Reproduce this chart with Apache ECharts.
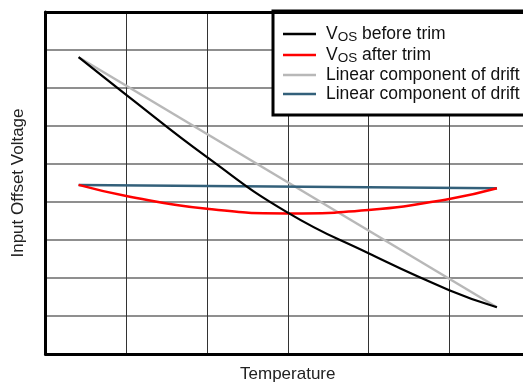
<!DOCTYPE html>
<html>
<head>
<meta charset="utf-8">
<script src="https://cdn.jsdelivr.net/npm/echarts@6/dist/echarts.min.js"></script>
<style>html,body{margin:0;padding:0;background:#fff;}#c{width:523px;height:382px;}</style>
</head>
<body>
<div id="c"></div>
<script>
// Temperature positions (arbitrary units, grid spans 0..6)
const tempX = [0.41, 1, 2, 3, 4, 5, 5.59];
const vosBefore = [7.81, 6.82, 5.18, 3.72, 2.65, 1.68, 1.23];
const vosAfter = [4.45, 4.16, 3.82, 3.70, 3.79, 4.08, 4.36];
const linX = [0.41, 5.59];
const linearBefore = [7.81, 1.23];
const linearAfter = [4.45, 4.36];
const seriesNames = ['VOS before trim', 'VOS after trim', 'Linear component of drift (before)', 'Linear component of drift (after)'];
const legendRich = ['{n|V}{s|OS}{n| before trim}', '{n|V}{s|OS}{n| after trim}', '{n|Linear component of drift}', '{n|Linear component of drift}'];
const seriesColors = ['#000000', '#ff0000', '#b8b8b8', '#33607a'];
const xTitle = 'Temperature';
const yTitle = 'Input Offset Voltage';

const pairs = (xs, ys) => xs.map((x, i) => [x, ys[i]]);
const FONT = 'Liberation Sans, Arial, sans-serif';

const chart = echarts.init(document.getElementById('c'), null, {renderer: 'canvas'});
chart.setOption({
  animation: false,
  backgroundColor: '#fff',
  grid: {left: 45.5, top: 12, width: 484.5, height: 342, show: false, containLabel: false, outerBoundsMode: 'none'},
  xAxis: [{
    type: 'value', min: 0, max: 6, interval: 1,
    name: xTitle, nameLocation: 'middle', nameGap: 12,
    nameTextStyle: {fontFamily: FONT, fontSize: 17, color: '#222'},
    axisLabel: {show: false}, axisTick: {show: false},
    axisLine: {show: true, lineStyle: {color: '#000', width: 3}},
    splitLine: {show: true, lineStyle: {color: '#333', width: 1}}
  }, {
    type: 'value', min: 0, max: 6, interval: 1, position: 'top',
    axisLabel: {show: false}, axisTick: {show: false}, splitLine: {show: false},
    axisLine: {show: true, lineStyle: {color: '#000', width: 3}}, z: 5
  }],
  yAxis: {
    type: 'value', min: 0, max: 9, interval: 1,
    name: yTitle, nameLocation: 'middle', nameGap: 19,
    nameTextStyle: {fontFamily: FONT, fontSize: 17, color: '#222'},
    axisLabel: {show: false}, axisTick: {show: false},
    axisLine: {show: true, lineStyle: {color: '#000', width: 3}},
    splitLine: {show: true, lineStyle: {color: '#6a6a6a', width: 1.5}}
  },
  legend: {
    orient: 'vertical', left: 273, top: 11,
    padding: [13, 12, 12, 10],
    itemWidth: 33, itemHeight: 2.5, itemGap: 1,
    icon: 'rect',
    backgroundColor: '#fff', borderColor: '#000', borderWidth: 3,
    data: seriesNames,
    formatter: (name) => legendRich[seriesNames.indexOf(name)],
    textStyle: {
      fontFamily: FONT, fontSize: 17.5, color: '#111', padding: [0, 0, 0, 5],
      rich: {
        n: {fontFamily: FONT, fontSize: 17.5, color: '#111', lineHeight: 20},
        s: {fontFamily: FONT, fontSize: 13.5, color: '#111', lineHeight: 20, verticalAlign: 'bottom', padding: [6, 0, 0, 0]}
      }
    }
  },
  series: [
    {name: seriesNames[2], type: 'line', data: pairs(linX, linearBefore), symbol: 'none', lineStyle: {color: seriesColors[2], width: 2.5}, itemStyle: {color: seriesColors[2]}, z: 2},
    {name: seriesNames[3], type: 'line', data: pairs(linX, linearAfter), symbol: 'none', lineStyle: {color: seriesColors[3], width: 2.5}, itemStyle: {color: seriesColors[3]}, z: 3},
    {name: seriesNames[1], type: 'line', data: pairs(tempX, vosAfter), smooth: true, symbol: 'none', lineStyle: {color: seriesColors[1], width: 2.5}, itemStyle: {color: seriesColors[1]}, z: 4},
    {name: seriesNames[0], type: 'line', data: pairs(tempX, vosBefore), smooth: true, symbol: 'none', lineStyle: {color: seriesColors[0], width: 2.2}, itemStyle: {color: seriesColors[0]}, z: 5}
  ]
});
</script>
</body>
</html>
